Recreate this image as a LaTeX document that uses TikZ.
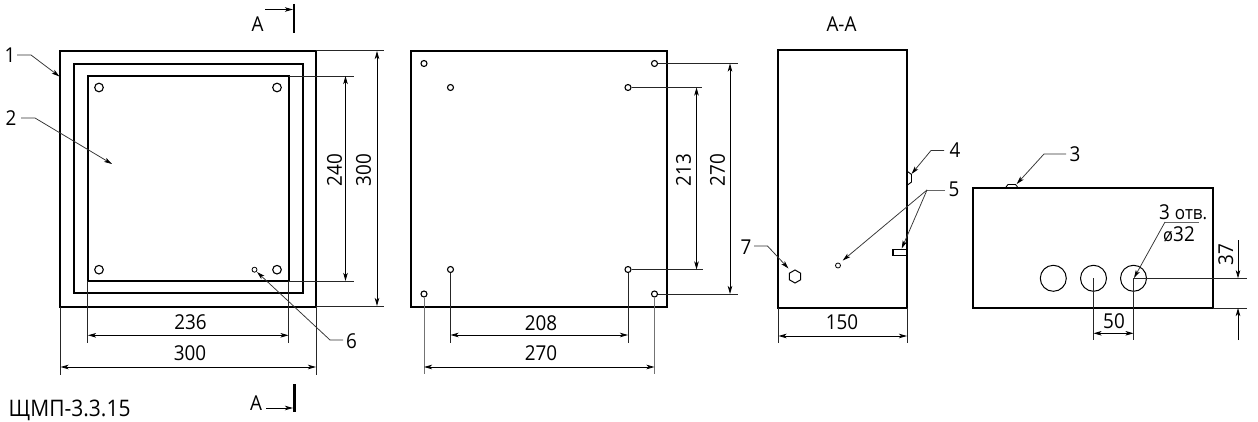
\documentclass[tikz,border=0pt]{standalone}
\usepackage{fontspec}
\setmainfont[FakeStretch=0.92]{Open Sans}
\usetikzlibrary{arrows.meta}
\tikzset{
 outline/.style={draw=black,line width=1.9pt},
 thinl/.style={draw=black,line width=0.85pt},
 extl/.style={draw=black!85,line width=0.8pt},
 leader/.style={draw=black!80,line width=0.75pt,-{Stealth[length=8pt,width=4.5pt,inset=2pt,black]}},
 dimn/.style={draw=black,line width=0.8pt,{Stealth[length=8pt,width=4.5pt,inset=2pt,black]}-{Stealth[length=8pt,width=4.5pt,inset=2pt,black]}},
 dimone/.style={draw=black,line width=0.8pt,-{Stealth[length=8pt,width=4.5pt,inset=2pt,black]}},
 lbl/.style={inner sep=0pt,font=\fontsize{20.5}{22}\selectfont},
 hole/.style={draw=black,line width=1.1pt,fill=white},
 secl/.style={draw=black,line width=2.2pt},
}
\begin{document}
\begin{tikzpicture}[x=1pt,y=-1pt]
\useasboundingbox[fill=white] (0,0) rectangle (1258,422);
% ---- front view
\draw[outline] (60,51) rectangle (316,307);
\draw[outline] (74,64) rectangle (303,293);
\draw[outline] (88,76) rectangle (289,281);
\foreach \p/\n in {99/a,277/b}{
  \node[hole,circle,minimum size=8.6pt,inner sep=0pt] (ft\n) at (\p,87.5) {};
  \node[hole,circle,minimum size=8.6pt,inner sep=0pt] (fb\n) at (\p,269.7) {};
}
\node[hole,circle,minimum size=5pt,inner sep=0pt,line width=0.8pt] (small6) at (254.5,269.7) {};
% extension lines
\draw[extl] (316,50.5) -- (384,50.5);
\draw[extl] (289,76) -- (354,76);
\draw[extl] (289,281) -- (354,281);
\draw[extl] (316,306) -- (384,306);
\draw[extl] (87.5,281) -- (87.5,342.5);
\draw[extl] (288.5,281) -- (288.5,342.5);
\draw[extl] (60.5,307) -- (60.5,375);
\draw[extl] (316,307) -- (316,375);
\draw[dimn] (377,51) -- (377,306);
\draw[dimn] (345.5,76) -- (345.5,281);
\draw[dimn] (88,335.3) -- (288.5,335.3);
\draw[dimn] (60.5,367) -- (316,367);
\node[lbl,rotate=90] (d240) at (334.5,170) {240};
\node[lbl,rotate=90] (d300) at (363.5,170) {300};
\node[lbl] (d236) at (190.5,322) {236};
\node[lbl] (d300b) at (190,353) {300};
% callouts
\node[lbl] (n1) at (10,55) {1};
\draw[leader] (17,55) -- (31,55) -- (59.5,76.5);
\node[lbl] (n2) at (11,118) {2};
\draw[leader] (21,118) -- (35,118) -- (112,164);
\node[lbl] (n6) at (351.5,341) {6};
\draw[leader] (343,340) -- (330,340) -- (257,272);
% section marks
\draw[secl] (294,4) -- (294,33);
\draw[secl] (294.5,384) -- (294.5,412);
\coordinate (st) at (293,9.5);
\coordinate (sb) at (293,408);
\draw[dimone,line width=0.9pt] (265,9.5) -- (st);
\draw[dimone,line width=0.9pt] (266,408) -- (sb);
\node[lbl] (At) at (257.5,24) {А};
\node[lbl] (Ab) at (256,403) {А};
\node[lbl,anchor=west,font=\fontsize{22.8}{24}\selectfont] (title) at (8.5,410.5) {ЩМП-3.3.15};
% ---- rear view
\draw[outline] (411,51) rectangle (667,307);
\foreach \x/\y/\n in {424/63.5/a,654.5/63.5/b,450.5/87.5/c,628/87.5/d,450.5/269.5/e,628/269.5/f,424/294/g,654.5/294/h}
  \node[hole,circle,minimum size=6pt,inner sep=0pt] (r\n) at (\x,\y) {};
\draw[extl] (rb) -- (738,63.5);
\draw[extl] (rd) -- (702,87.5);
\draw[extl] (rf) -- (702.5,269.5);
\draw[extl] (rh) -- (738,294);
\draw[extl] (re) -- (450.5,342.5);
\draw[extl] (rf) -- (628,342.5);
\draw[draw=black!55,line width=0.8pt] (rg) -- (424,374);
\draw[draw=black!55,line width=0.8pt] (rh) -- (654.5,374);
\draw[dimn] (696.5,87.5) -- (696.5,269.5);
\draw[dimn] (730,63.5) -- (730,294);
\draw[dimn] (450.5,335) -- (628,335);
\draw[dimn] (424,367) -- (654.5,367);
\node[lbl,rotate=90] (d213) at (683.5,170) {213};
\node[lbl,rotate=90] (d270) at (717.5,170) {270};
\node[lbl] (d208) at (541,323) {208};
\node[lbl] (d270b) at (541,353) {270};
% ---- section A-A
\node[lbl] (AA) at (841.5,24) {А-А};
\draw[outline] (778,50) rectangle (907,308);
\draw[thinl,line width=0.9pt] (907.5,171.5) -- (911.5,174.5) -- (911.5,182) -- (907.5,185);
\draw[outline,line width=1.5pt] (893,249.5) rectangle (906.8,255.3);
\node[hole,circle,minimum size=5pt,inner sep=0pt,line width=0.8pt] (small5) at (838,265.5) {};
\draw[thinl,line width=1pt] (795,270) -- (800.6,273.2) -- (800.6,279.8) -- (795,283) -- (789.4,279.8) -- (789.4,273.2) -- cycle;
\draw[extl] (778.5,308) -- (778.5,342.5);
\draw[extl] (907,308) -- (907,342.5);
\draw[dimn] (778.5,336) -- (907,336);
\node[lbl] (d150) at (842,322) {150};
\node[lbl] (n7) at (746,247) {7};
\draw[leader] (754,246) -- (767.5,246) -- (788.5,268.5);
\node[lbl] (n4) at (955,150) {4};
\draw[leader] (944,150.5) -- (931,150.5) -- (911.5,174);
\node[lbl] (n5) at (954,189) {5};
\coordinate (k5) at (927,190);
\draw[draw=black!60,line width=0.8pt] (945,190) -- (k5);
\draw[leader] (k5) -- (842.7,260.5);
\draw[leader] (k5) -- (901.7,248.5);
% ---- side view
\draw[outline] (973,188) rectangle (1213,308);
\draw[thinl] (1006,187) -- (1008,184.5) -- (1015.5,184.5) -- (1017.5,187);
\node[hole,circle,minimum size=26pt,inner sep=0pt,line width=1pt] (c1) at (1053.3,278.3) {};
\node[hole,circle,minimum size=26pt,inner sep=0pt,line width=1pt] (c2) at (1093.5,278.3) {};
\node[hole,circle,minimum size=26pt,inner sep=0pt,line width=1pt] (c3) at (1133.5,278.3) {};
\draw[extl] (c2.center) -- (1093.5,340);
\draw[extl] (c3.center) -- (1133.5,340);
\draw[dimn] (1093.5,333.3) -- (1133.5,333.3);
\node[lbl] (d50) at (1114,321.5) {50};
\draw[extl] (c3.center) -- (1247,278.3);
\draw[extl] (1213,308) -- (1247,308);
\draw[dimone] (1238,240) -- (1238,278.3);
\draw[dimone] (1238,340) -- (1238,308);
\node[lbl,rotate=90] (d37) at (1225.7,255) {37};
\node[lbl] (n3) at (1075,154) {3};
\draw[leader] (1066,154) -- (1044,154) -- (1016.7,184);
\node[lbl,anchor=base west] (otv) at (1159,219) {3 {\fontsize{18.5}{20}\selectfont отв.}};
\node[lbl,anchor=west] (dia) at (1163,234) {{\fontsize{18}{19}\selectfont ø}32};
\coordinate (ul) at (1165,222);
\draw[draw=black!60,line width=0.8pt] (ul) -- (1199,222);
\draw[leader] (ul) -- (1134,278);
\end{tikzpicture}
\end{document}
